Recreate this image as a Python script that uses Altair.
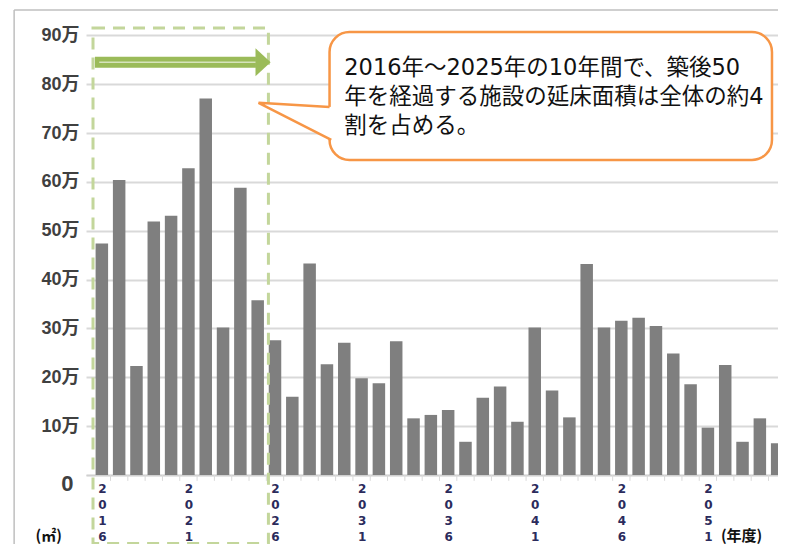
import altair as alt
import pandas as pd

# ---- data (floor area, unit: 万㎡) ----
YEARS = list(range(2016, 2056))
AREA = [47.4, 60.4, 22.3, 51.9, 53.1, 62.8, 77.1, 30.2, 58.8, 35.8,
        27.6, 16.0, 43.3, 22.7, 27.1, 19.8, 18.8, 27.4, 11.6, 12.3,
        13.3, 6.8, 15.8, 18.1, 10.9, 30.2, 17.3, 11.8, 43.2, 30.2,
        31.6, 32.2, 30.5, 24.9, 18.6, 9.7, 22.5, 6.8, 11.6, 6.5]
Y_TICKS = [0, 10, 20, 30, 40, 50, 60, 70, 80, 90]
X_LABEL_YEARS = [2016, 2021, 2026, 2031, 2036, 2041, 2046, 2051]
CALLOUT_LINES = ["2016年～2025年の10年間で、築後50",
                 "年を経過する施設の延床面積は全体の約4",
                 "割を占める。"]

PLOT_W = 692
X_DOM = [2015.374, 2015.374 + PLOT_W / 17.57]
Y_DOM = [0, 95]

bars_df = pd.DataFrame({"year": YEARS, "area": AREA})
gap_df = pd.DataFrame({"x": [y + 0.5 for y in YEARS[:-1]]})

X_AXIS = alt.Axis(
    values=X_LABEL_YEARS, title=None, grid=False, ticks=False,
    domain=True, domainColor="#d0d0d0", domainWidth=1.5,
    labelExpr="split(toString(datum.value), '')",
    labelFont="DejaVu Sans", labelFontWeight="bold", labelFontSize=12,
    labelColor="#2b2b5c", labelLineHeight=16, labelBaseline="top",
    labelPadding=8, labelAlign="center", labelFlush=False, labelOverlap=False)
Y_AXIS = alt.Axis(
    values=Y_TICKS, title=None, grid=True, gridColor="#d9d9d9", gridWidth=2,
    ticks=False, domain=False,
    labelExpr="datum.value == 0 ? '' : datum.value + '万'",
    labelFont="Liberation Sans Narrow, Liberation Sans, Noto Sans CJK JP",
    labelFontWeight="bold", labelFontSize=18, labelColor="#404040",
    labelPadding=7, labelOverlap=False)


def X(field):
    return alt.X(field, type="quantitative",
                 scale=alt.Scale(domain=X_DOM, nice=False, zero=False), axis=X_AXIS)


def Y(field):
    return alt.Y(field, type="quantitative",
                 scale=alt.Scale(domain=Y_DOM, nice=False, zero=False), axis=Y_AXIS)


bars = alt.Chart(bars_df).mark_bar(width=12.5, color="#7f7f7f", clip=True).encode(
    x=X("year:Q"), y=Y("area:Q"))

gap_ticks = alt.Chart(gap_df).transform_calculate(y0="0", y1="-1.2").mark_rule(
    color="#d9d9d9", strokeWidth=1).encode(x=X("x:Q"), y=Y("y0:Q"), y2="y1:Q")

# separate zero label
zero_df = pd.DataFrame({"x": [2014.01], "y": [-1.84], "t": ["0"]})
zero_lbl = alt.Chart(zero_df).mark_text(
    align="center", baseline="middle", fontSize=22, fontWeight="bold", color="#404040",
    font="Liberation Sans Narrow, Liberation Sans", clip=False).encode(
    x=X("x:Q"), y=Y("y:Q"), text="t:N")

# frame of the chart area
frame_df = pd.DataFrame({"x": [2010.935, 2010.935], "x2": [2010.935, 2056.0],
                         "y": [95.2, 95.2], "y2": [-25.0, 95.2]})
frame = alt.Chart(frame_df).mark_rule(color="#bfbfbf", strokeWidth=1.5, clip=False).encode(
    x=X("x:Q"), x2="x2:Q", y=Y("y:Q"), y2="y2:Q")

# dashed box around 2016-2025
box_df = pd.DataFrame({"x": [2015.49], "x2": [2025.62], "y": [91.5], "y2": [-14.0]})
box = alt.Chart(box_df).mark_rect(fill=None, stroke="#c3d69b", strokeWidth=3,
                                  strokeDash=[12, 8], clip=False).encode(
    x=X("x:Q"), x2="x2:Q", y=Y("y:Q"), y2="y2:Q")

# green arrow
shaft_df = pd.DataFrame({"x": [2015.60], "x2": [2024.90], "y": [84.5]})
shaft = alt.Chart(shaft_df).mark_rule(color="#9bbb59", strokeWidth=11, clip=False).encode(
    x=X("x:Q"), x2="x2:Q", y=Y("y:Q"))
hl_df = pd.DataFrame({"x": [2015.85], "x2": [2025.2], "y": [84.5]})
highlight = alt.Chart(hl_df).mark_rule(color="#d6e3bc", strokeWidth=1.5, clip=False).encode(
    x=X("x:Q"), x2="x2:Q", y=Y("y:Q"))
head_df = pd.DataFrame({"x": [2025.31], "y": [84.5]})
head = alt.Chart(head_df).mark_point(
    shape="M -0.54 -1 L 0.54 0 L -0.54 1 Z", size=784, filled=True,
    color="#9bbb59", opacity=1, clip=False).encode(x=X("x:Q"), y=Y("y:Q"))

# callout
callout_df = pd.DataFrame({"x": [2029.15], "x2": [2054.70], "y": [90.7], "y2": [64.5]})
callout = alt.Chart(callout_df).mark_rect(fill="white", stroke="#f79646", strokeWidth=2.5,
                                          cornerRadius=20, clip=False).encode(
    x=X("x:Q"), x2="x2:Q", y=Y("y:Q"), y2="y2:Q")
tail_fill_df = pd.DataFrame({"x": [2025.05, 2029.30], "y": [76.2, 75.35], "y2": [76.2, 68.6]})
tail_fill = alt.Chart(tail_fill_df).mark_area(color="white", opacity=1, clip=False).encode(
    x=X("x:Q"), y=Y("y:Q"), y2="y2:Q")
tail_line_df = pd.DataFrame({"x": [2029.15, 2025.05, 2029.25], "y": [75.35, 76.2, 68.6], "o": [0, 1, 2]})
tail_line = alt.Chart(tail_line_df).mark_line(color="#f79646", strokeWidth=2.5, clip=False,
                                              strokeJoin="miter").encode(
    x=X("x:Q"), y=Y("y:Q"), order="o:Q")
text_df = pd.DataFrame({"x": [2030.0] * 3, "y": [83.3, 77.4, 71.5], "t": CALLOUT_LINES})
callout_text = alt.Chart(text_df).mark_text(
    align="left", baseline="middle", fontSize=22.5, color="#111111",
    font="DejaVu Sans, Noto Sans CJK JP", clip=False).encode(
    x=X("x:Q"), y=Y("y:Q"), text="t:N")

# unit labels
unit_l_df = pd.DataFrame({"x": [2012.93], "y": [-12.4], "t": ["(㎡)"]})
unit_r_df = pd.DataFrame({"x": [2051.75], "y": [-12.4], "t": ["(年度)"]})
unit_left = alt.Chart(unit_l_df).mark_text(
    align="center", baseline="middle", fontSize=15, fontWeight="bold", color="#111111",
    font="Noto Sans CJK JP", clip=False).encode(x=X("x:Q"), y=Y("y:Q"), text="t:N")
unit_right = alt.Chart(unit_r_df).mark_text(
    align="left", baseline="middle", fontSize=15, fontWeight="bold", color="#111111",
    font="Noto Sans CJK JP", clip=False).encode(x=X("x:Q"), y=Y("y:Q"), text="t:N")

chart = alt.layer(
    bars, gap_ticks, zero_lbl, frame, box, shaft, highlight, head,
    callout, tail_fill, tail_line, callout_text, unit_left, unit_right
).properties(
    width=PLOT_W, height=464,
    autosize=alt.AutoSizeParams(type="none"),
    padding={"left": 78, "top": 3, "right": 0, "bottom": 69},
    background="white",
).configure_view(stroke=None)

chart.save("out.html", embed_options={"renderer": "svg", "actions": False})
